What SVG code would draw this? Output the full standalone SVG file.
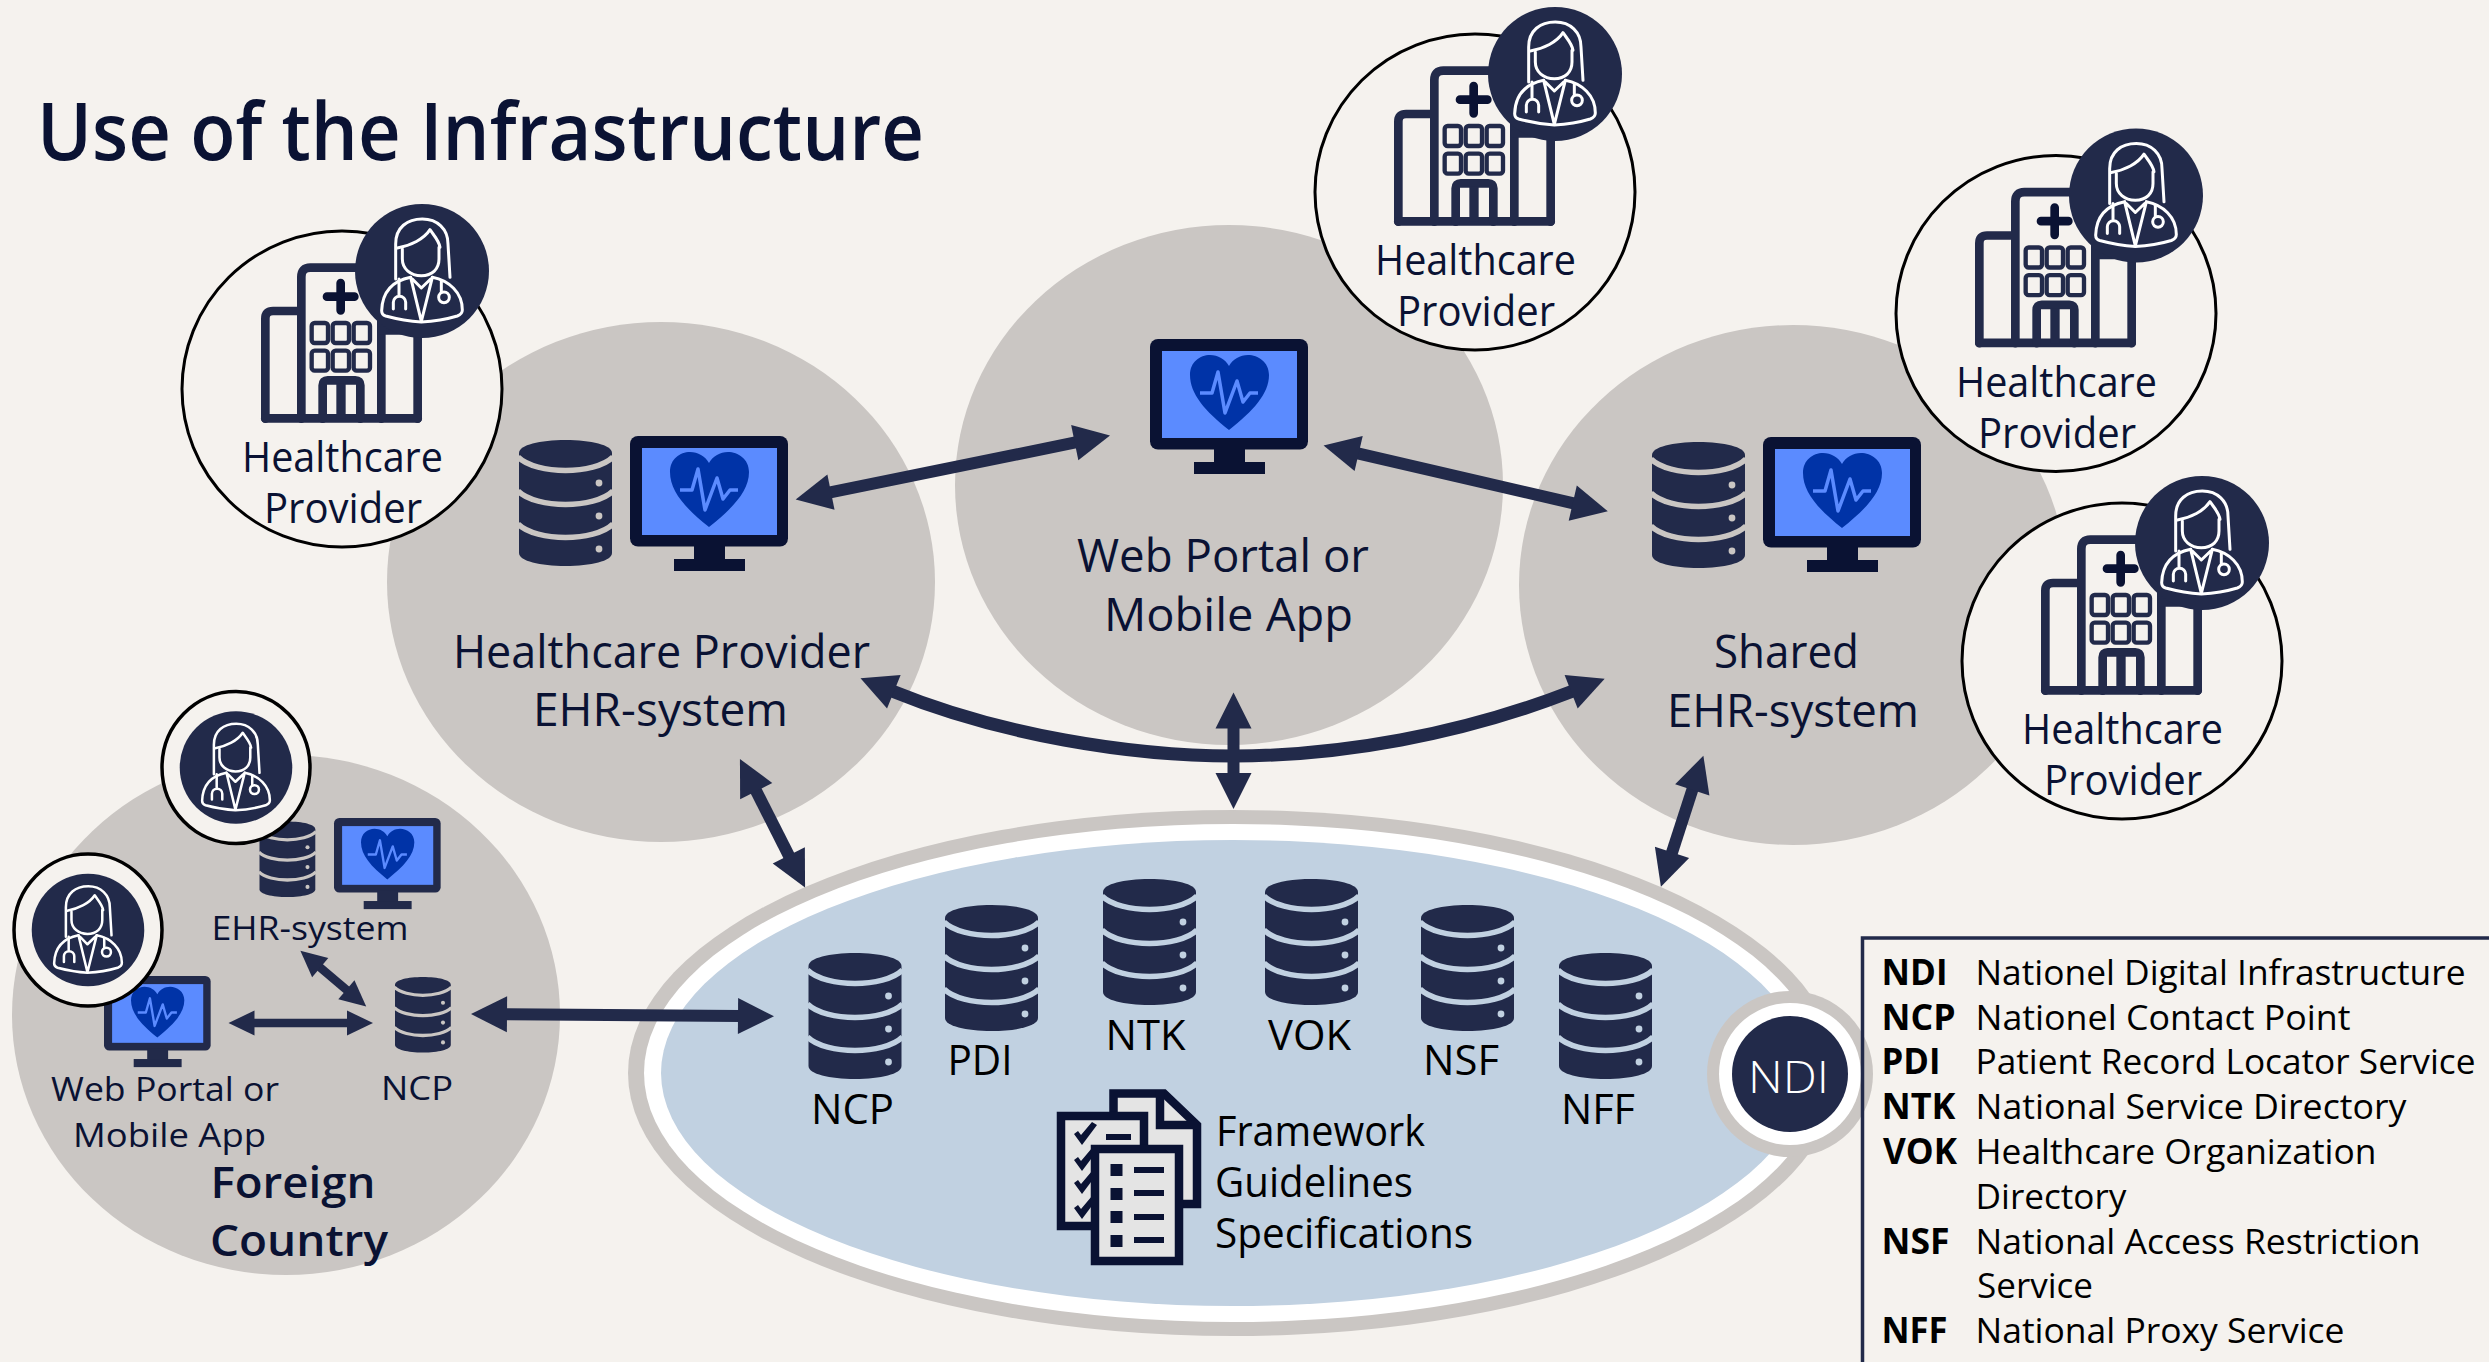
<svg xmlns="http://www.w3.org/2000/svg" width="2489" height="1362" viewBox="0 0 2489 1362">
<style>
text{font-family:"Open Sans","Noto Sans","Liberation Sans",sans-serif;fill:#0a1233}
.t1{font-size:42.500px}
.t2{font-size:45px}
.t3{font-size:33.500px}
.k{font-size:42.500px;fill:#000}
.lg{font-size:35.500px;fill:#000}
.lb{font-size:35.500px;fill:#000;font-weight:700}
.b{font-size:43.500px;font-weight:600}
.ln{stroke:#222a4a;stroke-width:12;fill:none}
.ls{stroke:#222a4a;stroke-width:8.5;fill:none}
.grey{fill:#cac6c3}
.prov{fill:#f5f2ee;stroke:#000;stroke-width:3}
.ring{fill:#f5f2ee;stroke:#000;stroke-width:3.5}
.bld{fill:none;stroke:#222a4a;stroke-width:26;stroke-linejoin:round;stroke-linecap:round}
.docl{fill:none;stroke:#fff;stroke-width:9;stroke-linejoin:round;stroke-linecap:round}
.paper{fill:#e4e4e4;stroke:#0a1233;stroke-width:8.5}
.ink{fill:#0a1233}
</style>
<defs>
<marker id="h" markerUnits="userSpaceOnUse" markerWidth="40" markerHeight="40" viewBox="0 -20 38 40" refX="2" refY="0" orient="auto-start-reverse"><path d="M0,-18 L36,0 L0,18Z" fill="#222a4a"/></marker>
<marker id="hs" markerUnits="userSpaceOnUse" markerWidth="30" markerHeight="30" viewBox="0 -15 28 30" refX="2" refY="0" orient="auto-start-reverse"><path d="M0,-12.5 L26,0 L0,12.5Z" fill="#222a4a"/></marker>
<g id="db">
<path fill="#222a4a" d="M0,13 C0,5 21,0 46.500,0 C72,0 93,5 93,13 V113 C93,121 72,126 46.500,126 C21,126 0,121 0,113Z"/>
<g fill="none" stroke="currentColor" stroke-width="5.500">
<path d="M-1,17 C8,26 28,30.500 46.500,30.500 C65,30.500 85,26 94,17"/>
<path d="M-1,51 C8,60 28,64.500 46.500,64.500 C65,64.500 85,60 94,51"/>
<path d="M-1,84 C8,93 28,97.500 46.500,97.500 C65,97.500 85,93 94,84"/>
</g>
<g fill="currentColor"><circle cx="80" cy="43" r="3.400"/><circle cx="80" cy="76" r="3.400"/><circle cx="80" cy="109" r="3.400"/></g>
</g>
<g id="mon">
<rect width="158" height="110.500" rx="8" fill="currentColor"/>
<rect x="64" y="108" width="31" height="17" fill="currentColor"/>
<rect x="44" y="123" width="71" height="12" fill="currentColor"/>
<rect x="12" y="12" width="135" height="87" fill="#5b8bff"/>
<path d="M79,91 C55,72 40,55 40,36 C40,23 50,16 60,16 C68,16 75,20 79,27 C83,20 90,16 98,16 C108,16 119,23 119,36 C119,55 103,72 79,91Z" fill="#0033a7"/>
<path d="M50,54 H62 L68,33 L75,74 L87,42 L93,63 L100,54 H108" fill="none" stroke="#5b8bff" stroke-width="3.500" stroke-linejoin="round"/>
</g>
<g id="doc">
<circle r="67" fill="#222a4a"/>
<g transform="scale(.3333) translate(-824,-221)" class="docl">
<path d="M745,245 V140 C745,90 780,65 825,65 C870,65 902,95 902,140 L908,240"/>
<path d="M750,152 C790,145 830,125 848,97 C860,115 875,130 878,150"/>
<path d="M765,155 V185 C765,215 790,235 822,235 C855,235 875,215 875,185 V150"/>
<path d="M790,240 C740,250 705,280 703,340 Q703,352 715,356 C760,368 790,372 822,374 C860,372 890,368 930,356 Q945,350 945,338 C945,285 905,250 855,240"/>
<path d="M790,240 L822,372 L855,240 M795,245 L822,272 L850,245"/>
<path d="M755,245 V295 M738,335 V315 A18,18 0 0 1 775,315 V335"/>
<path d="M882,250 V285"/><circle cx="890" cy="300" r="16"/>
</g>
</g>
<g id="bld">
<g transform="scale(.3333) translate(-585,-573)">
<g class="bld">
<path d="M355,665 V365 Q355,342 378,342 H455"/>
<path d="M463,665 V240 Q463,212 490,212 H675 Q703,212 703,240 V665"/>
<path d="M703,400 H812 V665"/>
<path d="M355,664 H812"/>
<path d="M527,665 V565 Q527,550 542,550 H625 Q640,550 640,565 V665"/>
<path d="M582,560 V665" stroke-linecap="butt" stroke-width="28"/>
</g>
<path d="M581,258 V340 M540,299 H622" stroke="#0a1233" stroke-width="26" stroke-linecap="round" fill="none"/>
<g fill="none" stroke="#222a4a" stroke-width="13">
<rect x="494" y="378" width="49" height="60" rx="9"/><rect x="557" y="378" width="49" height="60" rx="9"/><rect x="620" y="378" width="49" height="60" rx="9"/>
<rect x="494" y="461" width="49" height="60" rx="9"/><rect x="557" y="461" width="49" height="60" rx="9"/><rect x="620" y="461" width="49" height="60" rx="9"/>
</g>
</g>
</g>
<g id="provider">
<ellipse rx="160" ry="158" class="prov"/>
<use href="#bld" y="-1"/>
<text class="t1" x="-100" y="83" textLength="201" lengthAdjust="spacingAndGlyphs">Healthcare</text>
<text class="t1" x="-78" y="134" textLength="158" lengthAdjust="spacingAndGlyphs">Provider</text>
<use href="#doc" x="80" y="-118"/>
</g>
</defs>
<rect width="2489" height="1362" fill="#f5f2ee"/>
<text id="title" x="37" y="160" style="font-size:79px;font-weight:600" textLength="887" lengthAdjust="spacingAndGlyphs">Use of the Infrastructure</text>

<g id="node-hp-ehr">
<ellipse class="grey" cx="661" cy="582" rx="274" ry="260"/>
<use href="#db" x="519" y="440" style="color:#cac6c3"/>
<use href="#mon" x="630" y="436" style="color:#0a1233"/>
<text class="t2" x="453" y="668" textLength="417" lengthAdjust="spacingAndGlyphs">Healthcare Provider</text>
<text class="t2" x="533" y="726" textLength="255" lengthAdjust="spacingAndGlyphs">EHR-system</text>
</g>
<g id="node-portal">
<ellipse class="grey" cx="1229" cy="485" rx="274" ry="260"/>
<use href="#mon" x="1150" y="339" style="color:#0a1233"/>
<text class="t2" x="1077" y="572" textLength="292" lengthAdjust="spacingAndGlyphs">Web Portal or</text>
<text class="t2" x="1104" y="631" textLength="249" lengthAdjust="spacingAndGlyphs">Mobile App</text>
</g>
<g id="node-shared-ehr">
<ellipse class="grey" cx="1793" cy="585" rx="274" ry="260"/>
<use href="#db" x="1652" y="442" style="color:#cac6c3"/>
<use href="#mon" x="1763" y="437" style="color:#0a1233"/>
<text class="t2" x="1714" y="668" textLength="145" lengthAdjust="spacingAndGlyphs">Shared</text>
<text class="t2" x="1667" y="727" textLength="252" lengthAdjust="spacingAndGlyphs">EHR-system</text>
</g>
<g id="node-foreign">
<ellipse class="grey" cx="286" cy="1015" rx="274" ry="260"/>
<use href="#db" transform="translate(259.500,821.500) scale(.6)" style="color:#cac6c3"/>
<use href="#mon" transform="translate(334,818) scale(.675)" style="color:#222a4a"/>
<use href="#mon" transform="translate(104,976) scale(.675)" style="color:#222a4a"/>
<use href="#db" transform="translate(395,977) scale(.6)" style="color:#cac6c3"/>
<ellipse class="ring" cx="236" cy="767.500" rx="74" ry="76"/>
<use href="#doc" transform="translate(236,767.500) scale(.84)"/>
<ellipse class="ring" cx="88" cy="930" rx="74" ry="76"/>
<use href="#doc" transform="translate(88,930) scale(.84)"/>
<text class="t3" x="211.500" y="940" textLength="197" lengthAdjust="spacingAndGlyphs">EHR-system</text>
<text class="t3" x="51" y="1101" textLength="228" lengthAdjust="spacingAndGlyphs">Web Portal or</text>
<text class="t3" x="73" y="1147" textLength="193" lengthAdjust="spacingAndGlyphs">Mobile App</text>
<text class="t3" x="381" y="1100" textLength="72" lengthAdjust="spacingAndGlyphs">NCP</text>
<text class="b" x="210.500" y="1198" textLength="165" lengthAdjust="spacingAndGlyphs">Foreign</text>
<text class="b" x="210" y="1256" textLength="178" lengthAdjust="spacingAndGlyphs">Country</text>
</g>
<g id="node-ndi">
<ellipse class="grey" cx="1233" cy="1073" rx="605" ry="263"/>
<ellipse fill="#fff" cx="1233" cy="1073" rx="589" ry="249"/>
<ellipse fill="#c1d1e1" cx="1233" cy="1073" rx="572" ry="233"/>
</g>
<g id="node-ncp" style="color:#c1d1e1"><use href="#db" x="808.500" y="953"/><text class="k" x="811" y="1124" textLength="83" lengthAdjust="spacingAndGlyphs">NCP</text></g>
<g id="node-pdi" style="color:#c1d1e1"><use href="#db" x="945" y="905"/><text class="k" x="947.500" y="1075" textLength="65" lengthAdjust="spacingAndGlyphs">PDI</text></g>
<g id="node-ntk" style="color:#c1d1e1"><use href="#db" x="1103" y="879"/><text class="k" x="1105.500" y="1050" textLength="80" lengthAdjust="spacingAndGlyphs">NTK</text></g>
<g id="node-vok" style="color:#c1d1e1"><use href="#db" x="1265" y="879"/><text class="k" x="1268" y="1050" textLength="83" lengthAdjust="spacingAndGlyphs">VOK</text></g>
<g id="node-nsf" style="color:#c1d1e1"><use href="#db" x="1421" y="905"/><text class="k" x="1423" y="1075" textLength="76" lengthAdjust="spacingAndGlyphs">NSF</text></g>
<g id="node-nff" style="color:#c1d1e1"><use href="#db" x="1559" y="953"/><text class="k" x="1561" y="1124" textLength="74" lengthAdjust="spacingAndGlyphs">NFF</text></g>
<g id="node-docs">
<path class="paper" d="M1113.500,1093.500 H1164 L1197,1125 V1204 H1113.500Z"/>
<path d="M1164,1102 V1121 H1183Z" fill="#e4e4e4"/>
<path d="M1160,1090 V1125 H1197" fill="none" stroke="#0a1233" stroke-width="8.500"/>
<rect class="paper" x="1061" y="1116" width="83" height="110"/>
<path class="ink" d="M1074,1134 l4,-3 3,4 11,-13 5,3 -15,20Z M1074,1160 l4,-3 3,4 11,-13 5,3 -15,20Z M1074,1183 l4,-3 3,4 11,-13 5,3 -15,20Z M1074,1208 l4,-3 3,4 11,-13 5,3 -15,20Z"/>
<rect class="ink" x="1106" y="1134" width="25" height="6"/>
<rect class="paper" x="1095" y="1149" width="84" height="112"/>
<g class="ink">
<rect x="1110.500" y="1164" width="12" height="12"/><rect x="1110.500" y="1188" width="12" height="12"/><rect x="1110.500" y="1211" width="12" height="12"/><rect x="1110.500" y="1235" width="12" height="12"/>
<rect x="1134" y="1167" width="30" height="6"/><rect x="1134" y="1190" width="30" height="6"/><rect x="1134" y="1214" width="30" height="6"/><rect x="1134" y="1237" width="30" height="6"/>
</g>
<text class="k" x="1216" y="1146" textLength="209" lengthAdjust="spacingAndGlyphs">Framework</text>
<text class="k" x="1215" y="1197" textLength="198" lengthAdjust="spacingAndGlyphs">Guidelines</text>
<text class="k" x="1215" y="1248" textLength="258" lengthAdjust="spacingAndGlyphs">Specifications</text>
</g>
<g id="node-ndi-badge">
<circle class="grey" cx="1790" cy="1074" r="83"/>
<circle fill="#fff" cx="1790" cy="1074" r="71"/>
<circle fill="#222a4a" cx="1790" cy="1074" r="58"/>
<text x="1748" y="1093" style="font-size:45px;font-weight:300;fill:#fff" textLength="81" lengthAdjust="spacingAndGlyphs">NDI</text>
</g>
<g id="node-provider-1"><use href="#provider" x="342" y="389"/></g>
<g id="node-provider-2"><use href="#provider" x="1475" y="192"/></g>
<g id="node-provider-3"><use href="#provider" x="2056" y="313.500"/></g>
<g id="node-provider-4"><use href="#provider" x="2122" y="661"/></g>
<g id="connectors">
<line class="ln" x1="829" y1="492.600" x2="1076.700" y2="442.200" marker-start="url(#h)" marker-end="url(#h)"/>
<line class="ln" x1="1356.700" y1="453.100" x2="1574.700" y2="503.600" marker-start="url(#h)" marker-end="url(#h)"/>
<path class="ln" style="stroke-width:13" d="M892,691 C1000,735 1130,756 1233,756 C1340,756 1460,735 1573,691" marker-start="url(#h)" marker-end="url(#h)"/>
<line class="ln" x1="1233.500" y1="726.600" x2="1233.500" y2="775" marker-start="url(#h)" marker-end="url(#h)"/>
<line class="ln" x1="755.300" y1="789.300" x2="789.700" y2="857.200" marker-start="url(#h)" marker-end="url(#h)"/>
<line class="ln" x1="1692.900" y1="788" x2="1671.400" y2="854.300" marker-start="url(#h)" marker-end="url(#h)"/>
<line class="ln" x1="505" y1="1014.300" x2="740" y2="1016" marker-start="url(#h)" marker-end="url(#h)"/>
<line class="ls" x1="252.500" y1="1023" x2="349" y2="1023" marker-start="url(#hs)" marker-end="url(#hs)"/>
<line class="ls" x1="318.700" y1="966.300" x2="347.900" y2="991" marker-start="url(#hs)" marker-end="url(#hs)"/>
</g>
<g id="legend">
<rect x="1862.500" y="938" width="700" height="500" fill="none" stroke="#222a4a" stroke-width="3.500"/>
<text class="lb" x="1881.500" y="985" textLength="66" lengthAdjust="spacingAndGlyphs">NDI</text>
<text class="lb" x="1881.500" y="1030" textLength="74" lengthAdjust="spacingAndGlyphs">NCP</text>
<text class="lb" x="1881.500" y="1074" textLength="59" lengthAdjust="spacingAndGlyphs">PDI</text>
<text class="lb" x="1881.500" y="1119" textLength="74" lengthAdjust="spacingAndGlyphs">NTK</text>
<text class="lb" x="1883" y="1164" textLength="74" lengthAdjust="spacingAndGlyphs">VOK</text>
<text class="lb" x="1881.500" y="1254" textLength="68" lengthAdjust="spacingAndGlyphs">NSF</text>
<text class="lb" x="1881.500" y="1343" textLength="66" lengthAdjust="spacingAndGlyphs">NFF</text>
<text class="lg" x="1975.500" y="985" textLength="490" lengthAdjust="spacingAndGlyphs">Nationel Digital Infrastructure</text>
<text class="lg" x="1975.500" y="1030" textLength="375" lengthAdjust="spacingAndGlyphs">Nationel Contact Point</text>
<text class="lg" x="1975.500" y="1074" textLength="500" lengthAdjust="spacingAndGlyphs">Patient Record Locator Service</text>
<text class="lg" x="1975.500" y="1119" textLength="431" lengthAdjust="spacingAndGlyphs">National Service Directory</text>
<text class="lg" x="1975.500" y="1164" textLength="401" lengthAdjust="spacingAndGlyphs">Healthcare Organization</text>
<text class="lg" x="1975.500" y="1209" textLength="151" lengthAdjust="spacingAndGlyphs">Directory</text>
<text class="lg" x="1975.500" y="1254" textLength="445" lengthAdjust="spacingAndGlyphs">National Access Restriction</text>
<text class="lg" x="1977" y="1298" textLength="116" lengthAdjust="spacingAndGlyphs">Service</text>
<text class="lg" x="1975.500" y="1343" textLength="369" lengthAdjust="spacingAndGlyphs">National Proxy Service</text>
</g>
</svg>
